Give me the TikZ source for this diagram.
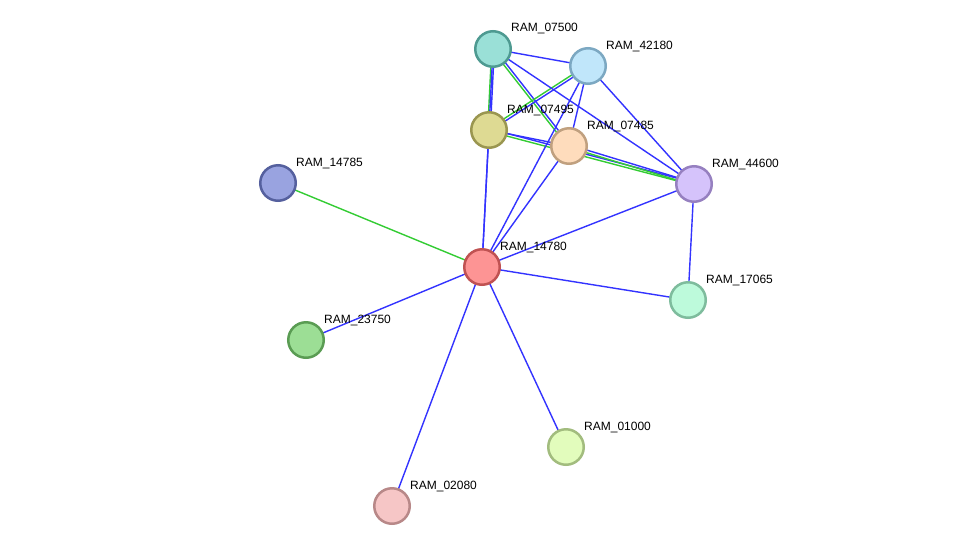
\documentclass[tikz,border=0pt]{standalone}
\usepackage{fontspec}
\setmainfont{Liberation Sans}
\usetikzlibrary{calc,backgrounds}
\definecolor{eblue}{HTML}{3333FF}
\definecolor{egreen}{HTML}{33CC33}
\tikzset{
  prot/.style={circle,minimum size=35.5pt,inner sep=0pt,line width=2.5pt},
  lab/.style={anchor=west,font=\fontsize{12}{14}\selectfont,inner sep=0pt},
  eb/.style={draw=eblue,line width=1.4pt},
  eg/.style={draw=egreen,line width=1.4pt},
}
\newcommand{\dbl}[2]{%
  \draw[eb] ($(#1.center)!1.3pt!90:(#2.center)$) -- ($(#2.center)!1.3pt!-90:(#1.center)$);
  \draw[eg] ($(#1.center)!1.3pt!-90:(#2.center)$) -- ($(#2.center)!1.3pt!90:(#1.center)$);}
\begin{document}
\begin{tikzpicture}[x=1pt,y=-1pt]
\useasboundingbox (0,0) rectangle (976,552);
\def\mk#1#2#3#4#5{%
  \node[prot,fill=#4,draw=#5] (#1) at (#2,#3) {};
  \node[lab] (l#1) at (#2+18,#3-20) {RAM\_#1};}
\definecolor{fA}{HTML}{9AE0D7}\definecolor{dA}{HTML}{4E9A91}
\definecolor{fB}{HTML}{C0E6FA}\definecolor{dB}{HTML}{7CA8C2}
\definecolor{fC}{HTML}{DEDA93}\definecolor{dC}{HTML}{9A9650}
\definecolor{fD}{HTML}{FEDCBC}\definecolor{dD}{HTML}{C0A07F}
\definecolor{fE}{HTML}{D5C3FB}\definecolor{dE}{HTML}{9680C0}
\definecolor{fF}{HTML}{99A3E0}\definecolor{dF}{HTML}{55609E}
\definecolor{fG}{HTML}{FD9494}\definecolor{dG}{HTML}{C05252}
\definecolor{fH}{HTML}{BDFADB}\definecolor{dH}{HTML}{7EBC9D}
\definecolor{fI}{HTML}{9CDE95}\definecolor{dI}{HTML}{5A9C53}
\definecolor{fJ}{HTML}{E2FCBC}\definecolor{dJ}{HTML}{A2BC7E}
\definecolor{fK}{HTML}{F6C6C6}\definecolor{dK}{HTML}{B88888}
\mk{07500}{493}{49}{fA}{dA}
\mk{42180}{588}{66}{fB}{dB}
\mk{07495}{489}{130}{fC}{dC}
\mk{07485}{569}{146}{fD}{dD}
\mk{44600}{694}{184}{fE}{dE}
\mk{14785}{278}{183}{fF}{dF}
\mk{14780}{482}{267}{fG}{dG}
\mk{17065}{688}{300}{fH}{dH}
\mk{23750}{306}{340}{fI}{dI}
\mk{01000}{566}{447}{fJ}{dJ}
\mk{02080}{392}{506}{fK}{dK}
\begin{scope}[on background layer]
\fill[white] (0,0) rectangle (976,552);
\dbl{07500}{07495}
\dbl{07500}{07485}
\dbl{42180}{07495}
\dbl{07495}{44600}
\dbl{07485}{44600}
\draw[eb] (07500.center) -- (42180.center);
\draw[eb] (07500.center) -- (44600.center);
\draw[eb] (07500.center) -- (14780.center);
\draw[eb] (42180.center) -- (07485.center);
\draw[eb] (42180.center) -- (44600.center);
\draw[eb] (42180.center) -- (14780.center);
\draw[eb] (07495.center) -- (07485.center);
\draw[eb] (07495.center) -- (14780.center);
\draw[eb] (07485.center) -- (14780.center);
\draw[eb] (44600.center) -- (14780.center);
\draw[eb] (44600.center) -- (17065.center);
\draw[eb] (14780.center) -- (17065.center);
\draw[eg] (14780.center) -- (14785.center);
\draw[eb] (14780.center) -- (23750.center);
\draw[eb] (14780.center) -- (01000.center);
\draw[eb] (14780.center) -- (02080.center);
\end{scope}
\end{tikzpicture}
\end{document}
